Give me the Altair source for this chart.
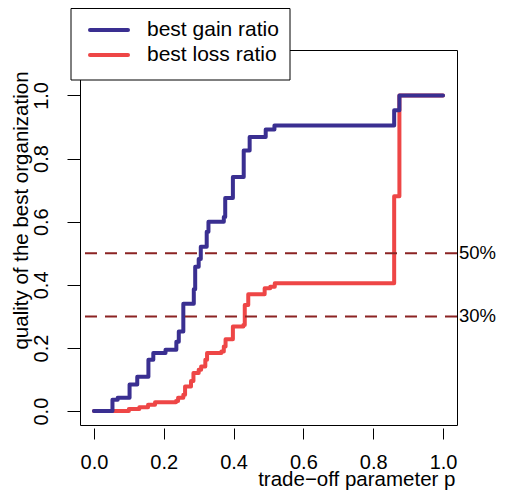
import altair as alt
import pandas as pd

FONT = "Liberation Sans"

series_names = ["best gain ratio", "best loss ratio"]
series_colors = ["#3A2F91", "#EE4646"]

# step positions (value holds from p onward)
gain_p = [0.0, 0.053, 0.068, 0.102, 0.124, 0.156, 0.170, 0.205, 0.236, 0.243, 0.256,
          0.286, 0.290, 0.300, 0.306, 0.323, 0.328, 0.372, 0.376, 0.398, 0.429, 0.446,
          0.492, 0.517, 0.860, 0.875, 1.0]
gain_q = [0.0, 0.036, 0.042, 0.084, 0.109, 0.163, 0.184, 0.194, 0.220, 0.252, 0.340,
          0.386, 0.457, 0.482, 0.521, 0.568, 0.600, 0.615, 0.675, 0.742, 0.826, 0.868,
          0.892, 0.905, 0.953, 1.000, 1.000]

loss_p = [0.0, 0.100, 0.130, 0.155, 0.175, 0.235, 0.241, 0.256, 0.261, 0.278, 0.285,
          0.300, 0.307, 0.319, 0.324, 0.365, 0.372, 0.377, 0.398, 0.428, 0.432, 0.442,
          0.489, 0.505, 0.518, 0.860, 0.875, 1.0]
loss_q = [0.0, 0.007, 0.012, 0.020, 0.028, 0.032, 0.042, 0.052, 0.078, 0.095, 0.121,
          0.131, 0.141, 0.163, 0.184, 0.189, 0.205, 0.228, 0.268, 0.273, 0.336, 0.370,
          0.389, 0.394, 0.405, 0.681, 1.000, 1.000]

thresholds = [0.5, 0.3]
threshold_labels = ["50%", "30%"]
tick_values = [0.0, 0.2, 0.4, 0.6, 0.8, 1.0]

x_title = "trade\u2212off parameter p"
y_title = "quality of the best organization"

gain_df = pd.DataFrame({"p": gain_p, "q": gain_q})
loss_df = pd.DataFrame({"p": loss_p, "q": loss_q})
thr_df = pd.DataFrame({"t": thresholds, "label": threshold_labels})
one = pd.DataFrame({"k": [0]})

x_scale = alt.Scale(domain=[-0.04, 1.04], nice=False, zero=False)
y_scale = alt.Scale(domain=[-0.044, 1.144], nice=False, zero=False)

x_axis = alt.Axis(values=tick_values, format=".1f", title=x_title, domain=False, grid=False,
                  tickSize=11, tickColor="black", tickWidth=1, offset=3,
                  labelFont=FONT, labelFontSize=20, labelColor="black", labelPadding=13,
                  labelBaseline="top", labelFlush=False, labelOverlap=False,
                  titleFont=FONT, titleFontSize=20.5, titleFontWeight="normal", titleColor="black",
                  titleX=375, titleY=57.5, titleAlign="right", titleBaseline="alphabetic")

y_axis = alt.Axis(values=tick_values, format=".1f", title=y_title, domain=False, grid=False,
                  tickSize=13, tickColor="black", tickWidth=1,
                  labelFont=FONT, labelFontSize=20, labelColor="black", labelPadding=20,
                  labelAngle=-90, labelAlign="center", labelBaseline="alphabetic",
                  labelFlush=False, labelOverlap=False,
                  titleFont=FONT, titleFontSize=20.5, titleFontWeight="normal", titleColor="black",
                  titleAngle=-90, titleX=-53, titleY=160, titleAlign="center",
                  titleBaseline="alphabetic")

loss = alt.Chart(loss_df).mark_line(
    interpolate="step-after", strokeWidth=4, color=series_colors[1],
    strokeCap="round", strokeJoin="round"
).encode(x=alt.X("p:Q", scale=x_scale, axis=x_axis),
         y=alt.Y("q:Q", scale=y_scale, axis=y_axis))

gain = alt.Chart(gain_df).mark_line(
    interpolate="step-after", strokeWidth=4, color=series_colors[0],
    strokeCap="round", strokeJoin="round"
).encode(x=alt.X("p:Q", scale=x_scale), y=alt.Y("q:Q", scale=y_scale))

rules = alt.Chart(thr_df).mark_rule(
    color="#8B2323", strokeWidth=2, strokeDash=[12, 8]
).encode(y=alt.Y("t:Q", scale=y_scale))

rule_text = alt.Chart(thr_df).mark_text(
    align="left", baseline="middle", font=FONT, fontSize=18.5, color="black"
).encode(y=alt.Y("t:Q", scale=y_scale), x=alt.value(379), text="label:N")

legend_box = alt.Chart(one).mark_rect(fill="white", stroke="black", strokeWidth=1).encode(
    x=alt.value(-9), x2=alt.value(210), y=alt.value(-41.5), y2=alt.value(30))

legend_layers = []
for i, (name, col) in enumerate(zip(series_names, series_colors)):
    yy = -20 + 25 * i
    legend_layers.append(
        alt.Chart(one).mark_rule(color=col, strokeWidth=4, strokeCap="round").encode(
            x=alt.value(10), x2=alt.value(48), y=alt.value(yy)))
    legend_layers.append(
        alt.Chart(one).mark_text(align="left", baseline="alphabetic", font=FONT,
                                 fontSize=21, color="black").encode(
            x=alt.value(67), y=alt.value(yy + 5.5), text=alt.value(name)))

chart = alt.layer(loss, gain, rules, rule_text, legend_box, *legend_layers).properties(
    width=377, height=375,
    autosize=alt.AutoSizeParams(type="none"),
    padding={"left": 72, "top": 42, "right": 40, "bottom": 65},
).configure(background="white").configure_view(stroke="black", strokeWidth=1)

chart.save("out.html", embed_options={"renderer": "svg", "actions": False})
